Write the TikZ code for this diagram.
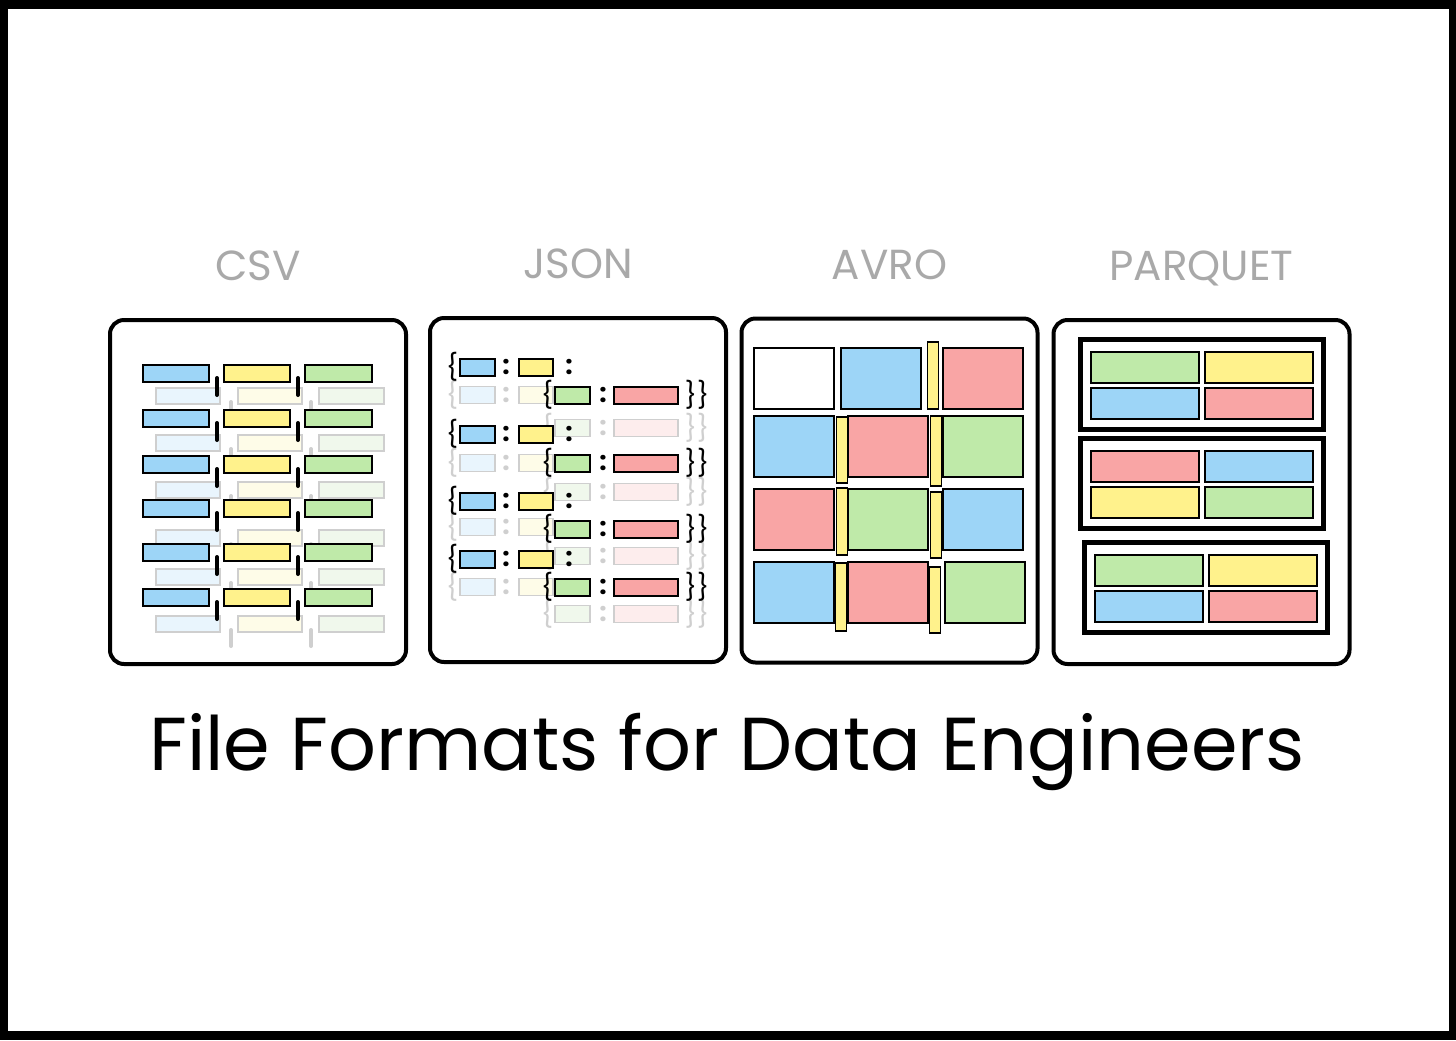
\documentclass[tikz,border=0pt]{standalone}
\usepackage{fontspec}
\setmainfont{Poppins}
\usepackage{xcolor}
\definecolor{SkyBlue}{HTML}{9DD5F7}
\definecolor{Lemon}{HTML}{FFF28C}
\definecolor{Mint}{HTML}{BFEAA9}
\definecolor{Salmon}{HTML}{F9A5A5}
\definecolor{FaintBlue}{HTML}{E9F5FD}
\definecolor{FaintYellow}{HTML}{FEFCE8}
\definecolor{FaintGreen}{HTML}{F0F8EC}
\definecolor{FaintRed}{HTML}{FDEDED}
\definecolor{LabelGrey}{HTML}{A9A9A9}
\definecolor{GhostGrey}{HTML}{CFCFCF}
\usepackage{tikz}
\usetikzlibrary{positioning}
\tikzstyle{panel} = [rectangle, draw=black, line width=2pt, rounded corners=7pt, minimum width=148pt, minimum height=172pt]
\tikzstyle{fmtname} = [inner sep=0pt, text depth=0pt, text=LabelGrey, font=\fontsize{21}{25}\selectfont]
\tikzstyle{headline} = [inner sep=0pt, text=black, font=\fontsize{37.5}{45}\selectfont]
\tikzstyle{cell} = [rectangle, draw=black, line width=1pt, inner sep=0pt]
\tikzstyle{ghost} = [rectangle, draw=GhostGrey, line width=0.8pt, inner sep=0pt]
\tikzstyle{comma} = [line width=2pt, line cap=round]
\tikzstyle{glyph} = [inner sep=0pt, font=\fontsize{13}{13}\selectfont]
\tikzstyle{bar} = [rectangle, draw=black, fill=Lemon, line width=0.7pt, inner sep=0pt, minimum width=5.5pt]
\tikzstyle{rowgroup} = [rectangle, draw=black, line width=2.5pt, minimum width=121.5pt, minimum height=45pt]

\begin{document}
\begin{tikzpicture}[x=0.5pt, y=-0.5pt]
        % frame
        \fill [black] (0,0) rectangle (1456,1040);
        \fill [white] (8,9) rectangle (1449,1031);

        % panels
        \node [panel] (csv) at (258,492) {};
        \node [panel] (json) at (578,490) {};
        \node [panel] (avro) at (889.5,490.5) {};
        \node [panel] (parquet) at (1201.5,492) {};

        \node [fmtname, above=18.5pt of csv] (csvname) {CSV};
        \node [fmtname, above=18.5pt of json] (jsonname) {JSON};
        \node [fmtname, above=18.5pt of avro] (avroname) {AVRO};
        \node [fmtname, above=18.5pt of parquet] (parquetname) {PARQUET};

        \node [headline] (title) at (727,752) {File Formats for Data Engineers};

        % CSV: faint rows, then dark rows
        \foreach \y [count=\i] in {396,443,490,538,577,624} {
            \node [ghost, fill=FaintBlue, minimum width=32pt, minimum height=8pt] (csvfb\i) at (188,\y) {};
            \node [ghost, fill=FaintYellow, minimum width=32pt, minimum height=8pt] (csvfy\i) at (270,\y) {};
            \node [ghost, fill=FaintGreen, minimum width=32.5pt, minimum height=8pt] (csvfg\i) at (351.5,\y) {};
            \draw [comma, GhostGrey] (231,{\y+6}) -- (231,{\y+22});
            \draw [comma, GhostGrey] (311,{\y+6}) -- (311,{\y+22});
        }
        \foreach \y [count=\i] in {373,418,464,508,552,597} {
            \node [cell, fill=SkyBlue, minimum width=33pt, minimum height=8.5pt] (csvb\i) at (175.5,\y) {};
            \node [cell, fill=Lemon, minimum width=33pt, minimum height=8.5pt] (csvy\i) at (257,\y) {};
            \node [cell, fill=Mint, minimum width=33.5pt, minimum height=8.5pt] (csvg\i) at (338.5,\y) {};
            \draw [comma] (217,{\y+5}) -- (217,{\y+22});
            \draw [comma] (298,{\y+5}) -- (298,{\y+22});
        }

        % JSON: faint records
        \foreach \y [count=\i] in {395,463,527,587} {
            \node [glyph, text=GhostGrey] (jflb\i) at (452,\y) {\{};
            \node [ghost, fill=FaintBlue, minimum width=17.5pt, minimum height=8.5pt] (jfk\i) at (477.5,\y) {};
            \node [glyph, text=GhostGrey] (jflc\i) at (506,\y) {\textbf{:}};
            \node [ghost, fill=FaintYellow, minimum width=17pt, minimum height=8.5pt] (jfv\i) at (536,\y) {};
        }
        \foreach \y [count=\i] in {428,492,556,614} {
            \node [glyph, text=GhostGrey] (jfrb\i) at (547,\y) {\{};
            \node [ghost, fill=FaintGreen, minimum width=17.5pt, minimum height=8.5pt] (jfk\i) at (572.5,\y) {};
            \node [glyph, text=GhostGrey] (jfrc\i) at (603,\y) {\textbf{:}};
            \node [ghost, fill=FaintRed, minimum width=32pt, minimum height=8.5pt] (jfv\i) at (646,\y) {};
            \node [glyph, text=GhostGrey] (jfre\i) at (697,\y) {\}\}};
        }
        % JSON: dark records
        \foreach \y [count=\i] in {367,434,501,559} {
            \node [glyph] (jlb\i) at (452,\y) {\{};
            \node [cell, fill=SkyBlue, minimum width=17.5pt, minimum height=8.5pt] (jk\i) at (477.5,\y) {};
            \node [glyph] (jlc\i) at (506,\y) {\textbf{:}};
            \node [cell, fill=Lemon, minimum width=17pt, minimum height=8.5pt] (jv\i) at (536,\y) {};
            \node [glyph] (jld\i) at (569,\y) {\textbf{:}};
        }
        \foreach \y [count=\i] in {395,463,529,587} {
            \node [glyph] (jrb\i) at (547,\y) {\{};
            \node [cell, fill=Mint, minimum width=17.5pt, minimum height=8.5pt] (jnk\i) at (572.5,\y) {};
            \node [glyph] (jrc\i) at (603,\y) {\textbf{:}};
            \node [cell, fill=Salmon, minimum width=32pt, minimum height=8.5pt] (jnv\i) at (646,\y) {};
            \node [glyph] (jre\i) at (697,\y) {\}\}};
        }

        % AVRO blocks
        \foreach \x/\y/\c [count=\i] in {794/378.5/white, 880.5/378.5/SkyBlue, 982.5/378.5/Salmon,
            794/446.5/SkyBlue, 888/446.5/Salmon, 983/446.5/Mint,
            794/519.5/Salmon, 888/519.5/Mint, 983/519.5/SkyBlue,
            794/592.5/SkyBlue, 888/592.5/Salmon, 985/592.5/Mint} {
            \node [cell, fill=\c, minimum width=40pt, minimum height=30.5pt] (avc\i) at (\x,\y) {};
        }
        \foreach \x/\y/\h [count=\i] in {933/375.5/33.5, 842/450/33, 936/451/35, 842/521.5/33.5,
            936/525/33, 841/597/34, 935/600/33} {
            \node [bar, minimum height=\h pt] (avs\i) at (\x,\y) {};
        }

        % PARQUET row groups
        \foreach \gx/\gy/\ca/\cb/\cc/\cd [count=\n] in {1201.5/384.5/Mint/Lemon/SkyBlue/Salmon,
            1202/483/Salmon/SkyBlue/Lemon/Mint, 1205.5/587.5/Mint/Lemon/SkyBlue/Salmon} {
            \node [rowgroup] (rg\n) at (\gx,\gy) {};
            \node [cell, fill=\ca, minimum width=54pt, minimum height=15.5pt] (rg\n a) at ({\gx-57},{\gy-17}) {};
            \node [cell, fill=\cb, minimum width=54pt, minimum height=15.5pt] (rg\n b) at ({\gx+57},{\gy-17}) {};
            \node [cell, fill=\cc, minimum width=54pt, minimum height=15.5pt] (rg\n c) at ({\gx-57},{\gy+19}) {};
            \node [cell, fill=\cd, minimum width=54pt, minimum height=15.5pt] (rg\n d) at ({\gx+57},{\gy+19}) {};
        }
    \end{tikzpicture}
\end{document}
